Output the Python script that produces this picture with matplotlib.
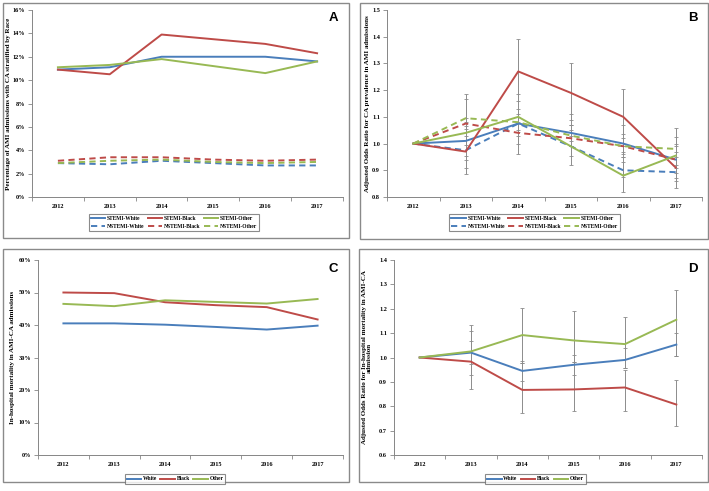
import numpy as np
import matplotlib
matplotlib.use("Agg")
import matplotlib.pyplot as plt
from matplotlib.patches import Rectangle
from matplotlib.ticker import PercentFormatter

years = ["2012", "2013", "2014", "2015", "2016", "2017"]

# Panel A - % of AMI admissions with CA
a_stemi_white = [10.9, 11.1, 12.0, 12.0, 12.0, 11.6]
a_stemi_black = [10.9, 10.5, 13.9, 13.5, 13.1, 12.3]
a_stemi_other = [11.1, 11.3, 11.8, 11.2, 10.6, 11.6]
a_nstemi_white = [2.9, 2.8, 3.1, 2.9, 2.7, 2.7]
a_nstemi_black = [3.1, 3.4, 3.4, 3.2, 3.1, 3.2]
a_nstemi_other = [2.9, 3.1, 3.2, 3.0, 2.9, 3.0]

# Panel B - adjusted odds ratio (value, lower, upper)
b_stemi_white = [1.0, 1.01, 1.075, 1.04, 1.0, 0.94]
b_stemi_white_lo = [1.0, 0.94, 1.03, 1.01, 0.97, 0.89]
b_stemi_white_hi = [1.0, 1.08, 1.13, 1.07, 1.035, 1.0]
b_stemi_black = [1.0, 0.97, 1.27, 1.19, 1.10, 0.91]
b_stemi_black_lo = [1.0, 0.885, 1.16, 1.09, 0.99, 0.835]
b_stemi_black_hi = [1.0, 1.065, 1.39, 1.30, 1.205, 0.99]
b_stemi_other = [1.0, 1.04, 1.10, 0.99, 0.88, 0.955]
b_stemi_other_lo = [1.0, 0.91, 0.96, 0.92, 0.82, 0.86]
b_stemi_other_hi = [1.0, 1.185, 1.185, 1.07, 0.95, 1.06]
b_nstemi_white = [1.0, 0.975, 1.075, 0.99, 0.90, 0.893]
b_nstemi_white_lo = [1.0, 0.955, 1.05, 0.955, 0.875, 0.87]
b_nstemi_white_hi = [1.0, 0.995, 1.10, 1.03, 0.93, 0.92]
b_nstemi_black = [1.0, 1.075, 1.04, 1.02, 0.99, 0.94]
b_nstemi_black_lo = [1.0, 1.055, 1.0, 0.99, 0.96, 0.91]
b_nstemi_black_hi = [1.0, 1.095, 1.08, 1.05, 1.02, 0.97]
b_nstemi_other = [1.0, 1.095, 1.08, 1.03, 0.99, 0.98]
b_nstemi_other_lo = [1.0, 1.03, 1.045, 0.99, 0.95, 0.95]
b_nstemi_other_hi = [1.0, 1.165, 1.11, 1.11, 1.07, 1.025]

# Panel C - in-hospital mortality %
c_white = [40.5, 40.5, 40.1, 39.4, 38.6, 39.8]
c_black = [50.0, 49.8, 47.0, 46.1, 45.5, 41.7]
c_other = [46.5, 45.8, 47.6, 47.1, 46.6, 48.0]

# Panel D - adjusted odds ratio for mortality
d_white = [1.0, 1.02, 0.945, 0.97, 0.99, 1.053]
d_white_lo = [1.0, 0.928, 0.902, 0.93, 0.955, 1.008]
d_white_hi = [1.0, 1.11, 0.986, 1.01, 1.04, 1.102]
d_black = [1.0, 0.983, 0.867, 0.869, 0.877, 0.807]
d_black_lo = [1.0, 0.872, 0.771, 0.78, 0.781, 0.719]
d_black_hi = [1.0, 1.067, 0.976, 0.98, 0.949, 0.909]
d_other = [1.0, 1.025, 1.092, 1.07, 1.055, 1.155]
d_other_lo = [1.0, 0.972, 0.976, 0.98, 0.955, 1.008]
d_other_hi = [1.0, 1.132, 1.205, 1.189, 1.167, 1.275]

BLUE = "#4a7ebb"
RED = "#be4b48"
GREEN = "#98b954"
AXC = "#868686"
ERRC = "#8c8c8c"

plt.rcParams["font.family"] = ["Liberation Serif", "DejaVu Serif"]
plt.rcParams["font.weight"] = "bold"

W, H = 709, 491
fig = plt.figure(figsize=(W / 100, H / 100), dpi=100)


def px_axes(l, t, r, b):
    return fig.add_axes([l / W, 1 - b / H, (r - l) / W, (b - t) / H])


def frame(l, t, r, b):
    fig.patches.append(Rectangle((l / W, 1 - b / H), (r - l) / W, (b - t) / H,
                                 transform=fig.transFigure, fill=False,
                                 edgecolor="#8a8a8a", linewidth=1.0))


def style(ax, ylabel, letter, label_x):
    x = np.arange(len(years))
    ax.set_xlim(-0.5, len(years) - 0.5)
    ax.set_xticks(np.arange(-0.5, len(years), 1))
    ax.set_xticklabels([])
    ax.set_xticks(x, minor=True)
    ax.set_xticklabels(years, minor=True, fontsize=4.5, fontweight="bold")
    ax.tick_params(axis="x", which="major", length=3, color=AXC, width=0.6)
    ax.tick_params(axis="x", which="minor", length=0, pad=5)
    ax.tick_params(axis="y", length=3, color=AXC, width=0.6, labelsize=4.5, pad=2)
    for lab in ax.get_yticklabels():
        lab.set_fontweight("bold")
    for s in ["top", "right"]:
        ax.spines[s].set_visible(False)
    for s in ["left", "bottom"]:
        ax.spines[s].set_color(AXC)
        ax.spines[s].set_linewidth(0.7)
    ax.set_ylabel(ylabel, fontsize=5.0, fontweight="bold", linespacing=1.0)
    ax.yaxis.set_label_coords(label_x, 0.5)
    ax.text(0.985, 0.955, letter, transform=ax.transAxes, ha="right", va="center",
            fontsize=9.5, fontweight="bold", family="Liberation Sans")


def leg(ax, handles, labels, cx, cy, ncol):
    lg = fig.legend(handles, labels, loc="center", bbox_to_anchor=(cx / W, 1 - cy / H),
                    ncol=ncol, fontsize=4.0, frameon=True, fancybox=False,
                    edgecolor="#6e6e6e", handlelength=2.6, handletextpad=0.3,
                    columnspacing=0.6, borderpad=0.4, labelspacing=0.6)
    lg.get_frame().set_linewidth(0.8)
    for t in lg.get_texts():
        t.set_fontweight("bold")


x = np.arange(len(years))
lw = 1.4
dash = (3.2, 2.2)

# ---------- A ----------
frame(3, 3, 349, 238)
axA = px_axes(32, 10, 343, 197)
lA = []
lA.append(axA.plot(x, a_stemi_white, color=BLUE, lw=lw)[0])
lA.append(axA.plot(x, a_nstemi_white, color=BLUE, lw=lw, dashes=dash)[0])
lA.append(axA.plot(x, a_stemi_black, color=RED, lw=lw)[0])
lA.append(axA.plot(x, a_nstemi_black, color=RED, lw=lw, dashes=dash)[0])
lA.append(axA.plot(x, a_stemi_other, color=GREEN, lw=lw)[0])
lA.append(axA.plot(x, a_nstemi_other, color=GREEN, lw=lw, dashes=dash)[0])
axA.set_ylim(0, 16)
axA.set_yticks(np.arange(0, 17, 2))
axA.yaxis.set_major_formatter(PercentFormatter(decimals=0))
style(axA, "Percentage of AMI admissions with CA stratified by Race", "A", -0.0675)
leg(axA, lA, ["STEMI-White", "NSTEMI-White", "STEMI-Black", "NSTEMI-Black",
              "STEMI-Other", "NSTEMI-Other"], 174, 222.5, 3)

# ---------- B ----------
frame(360, 3, 708, 239)
axB = px_axes(387, 10, 702, 197)
b_series = [
    (b_stemi_white, b_stemi_white_lo, b_stemi_white_hi, BLUE, None),
    (b_nstemi_white, b_nstemi_white_lo, b_nstemi_white_hi, BLUE, dash),
    (b_stemi_black, b_stemi_black_lo, b_stemi_black_hi, RED, None),
    (b_nstemi_black, b_nstemi_black_lo, b_nstemi_black_hi, RED, dash),
    (b_stemi_other, b_stemi_other_lo, b_stemi_other_hi, GREEN, None),
    (b_nstemi_other, b_nstemi_other_lo, b_nstemi_other_hi, GREEN, dash),
]
for v, lo, hi in [(s[0], s[1], s[2]) for s in b_series]:
    v, lo, hi = np.array(v), np.array(lo), np.array(hi)
    axB.errorbar(x[1:], v[1:], yerr=[v[1:] - lo[1:], hi[1:] - v[1:]], fmt="none",
                 ecolor=ERRC, elinewidth=0.7, capsize=1.3, capthick=0.6, zorder=1)
lB = []
for v, lo, hi, c, d in b_series:
    if d is None:
        lB.append(axB.plot(x, v, color=c, lw=lw, zorder=3)[0])
    else:
        lB.append(axB.plot(x, v, color=c, lw=lw, dashes=d, zorder=3)[0])
axB.set_ylim(0.8, 1.5)
axB.set_yticks(np.arange(0.8, 1.51, 0.1))
axB.set_yticklabels([f"{t:.1f}" for t in np.arange(0.8, 1.51, 0.1)])
style(axB, "Adjusted Odds Ratio for CA prevalence in AMI admissions", "B", -0.054)
leg(axB, lB, ["STEMI-White", "NSTEMI-White", "STEMI-Black", "NSTEMI-Black",
              "STEMI-Other", "NSTEMI-Other"], 534.5, 222.5, 3)

# ---------- C ----------
frame(3, 249, 349, 482)
axC = px_axes(38, 260, 343, 455)
lC = [axC.plot(x, c_white, color=BLUE, lw=lw)[0],
      axC.plot(x, c_black, color=RED, lw=lw)[0],
      axC.plot(x, c_other, color=GREEN, lw=lw)[0]]
axC.set_ylim(0, 60)
axC.set_yticks(np.arange(0, 61, 10))
axC.yaxis.set_major_formatter(PercentFormatter(decimals=0))
style(axC, "In-hospital mortality in AMI-CA admissions", "C", -0.075)
leg(axC, lC, ["White", "Black", "Other"], 175, 479, 3)

# ---------- D ----------
frame(359, 249, 708, 482)
axD = px_axes(394, 260, 702, 455)
for v, lo, hi in [(d_white, d_white_lo, d_white_hi), (d_black, d_black_lo, d_black_hi),
                  (d_other, d_other_lo, d_other_hi)]:
    v, lo, hi = np.array(v), np.array(lo), np.array(hi)
    axD.errorbar(x[1:], v[1:], yerr=[v[1:] - lo[1:], hi[1:] - v[1:]], fmt="none",
                 ecolor=ERRC, elinewidth=0.7, capsize=1.3, capthick=0.6, zorder=1)
lD = [axD.plot(x, d_white, color=BLUE, lw=lw, zorder=3)[0],
      axD.plot(x, d_black, color=RED, lw=lw, zorder=3)[0],
      axD.plot(x, d_other, color=GREEN, lw=lw, zorder=3)[0]]
axD.set_ylim(0.6, 1.4)
axD.set_yticks(np.arange(0.6, 1.41, 0.1))
axD.set_yticklabels([f"{t:.1f}" for t in np.arange(0.6, 1.41, 0.1)])
style(axD, "Adjusted Odds Ratio for In-hospital mortality in AMI-CA\nadmission", "D", -0.071)
leg(axD, lD, ["White", "Black", "Other"], 535.5, 479, 3)

fig.savefig("out.png", dpi=100)
